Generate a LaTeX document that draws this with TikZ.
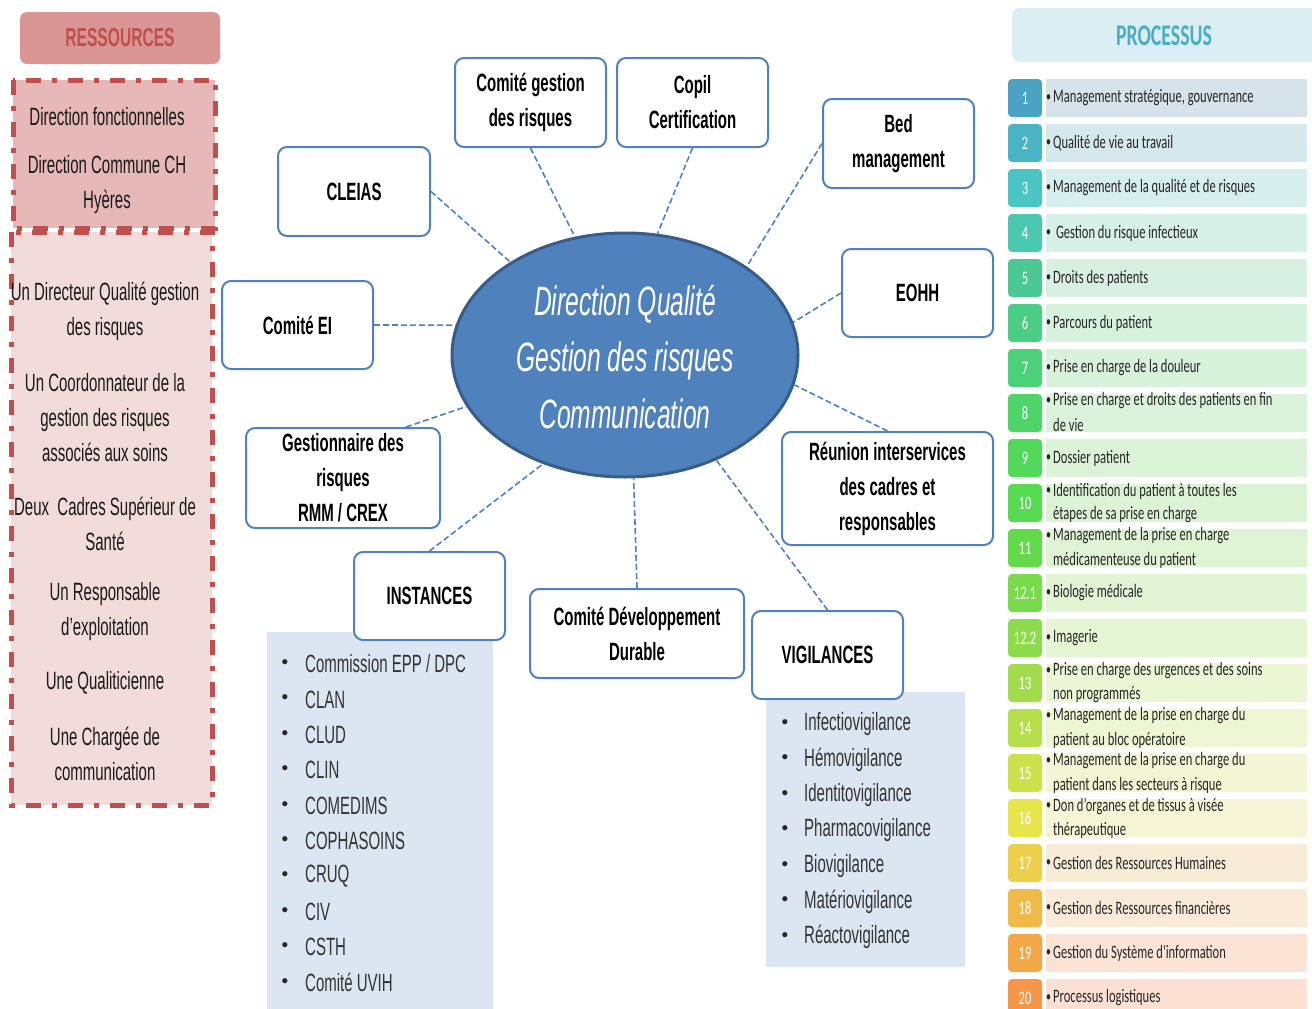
\documentclass[tikz,border=0pt]{standalone}
\usepackage{fontspec}
\setmainfont{Liberation Sans}[FakeStretch=0.6]
\newfontfamily\calib{Carlito}[FakeStretch=0.66]
\newfontfamily\plainsans{Liberation Sans}
\usetikzlibrary{shapes.geometric}
\definecolor{blu}{HTML}{4F81BD}
\definecolor{bluD}{HTML}{385D8A}
\definecolor{redD}{HTML}{C0504D}
\definecolor{redM}{HTML}{D99694}
\definecolor{redL}{HTML}{E6B9B8}
\definecolor{redLL}{HTML}{F2DCDB}
\definecolor{listbg}{HTML}{DCE6F2}
\definecolor{procbg}{HTML}{DBEEF4}
\definecolor{proct}{HTML}{4BACC6}
% process row colours
\definecolor{num1}{HTML}{4AA3C5}\definecolor{bar1}{HTML}{D6E3EA}
\definecolor{num2}{HTML}{4AB4C6}\definecolor{bar2}{HTML}{D5E8EC}
\definecolor{num3}{HTML}{4BC5C3}\definecolor{bar3}{HTML}{D6EEEC}
\definecolor{num4}{HTML}{4BC8B0}\definecolor{bar4}{HTML}{D7F0E8}
\definecolor{num5}{HTML}{4CC894}\definecolor{bar5}{HTML}{D7F0E2}
\definecolor{num6}{HTML}{4CCD85}\definecolor{bar6}{HTML}{D8F2E0}
\definecolor{num7}{HTML}{4DD07A}\definecolor{bar7}{HTML}{D8F2DC}
\definecolor{num8}{HTML}{4FD46A}\definecolor{bar8}{HTML}{DAF3DA}
\definecolor{num9}{HTML}{52D85A}\definecolor{bar9}{HTML}{DBF4D8}
\definecolor{num10}{HTML}{55DA50}\definecolor{bar10}{HTML}{DCF4D6}
\definecolor{num11}{HTML}{62DA4C}\definecolor{bar11}{HTML}{DEF4D4}
\definecolor{num12a}{HTML}{78DA4C}\definecolor{bar12a}{HTML}{E2F4D4}
\definecolor{num12b}{HTML}{8CDB4C}\definecolor{bar12b}{HTML}{E6F5D4}
\definecolor{num13}{HTML}{A0DC4C}\definecolor{bar13}{HTML}{EAF6D4}
\definecolor{num14}{HTML}{B4DE4C}\definecolor{bar14}{HTML}{EEF6D4}
\definecolor{num15}{HTML}{CCE24C}\definecolor{bar15}{HTML}{F2F6D4}
\definecolor{num16}{HTML}{E6E64C}\definecolor{bar16}{HTML}{F6F6D6}
\definecolor{num17}{HTML}{ECD04C}\definecolor{bar17}{HTML}{F8ECD6}
\definecolor{num18}{HTML}{EFBA48}\definecolor{bar18}{HTML}{FAEAD8}
\definecolor{num19}{HTML}{F2A846}\definecolor{bar19}{HTML}{FBE4D6}
\definecolor{num20}{HTML}{F79646}\definecolor{bar20}{HTML}{FDE0D4}

\tikzset{
 box/.style={draw=blu, line width=2pt, rounded corners=9pt, fill=white, inner sep=0pt,
   align=center, font=\fontsize{25}{35}\selectfont\bfseries},
 link/.style={draw=blu, line width=1.6pt, dash pattern=on 6pt off 3pt},
 ltxt/.style={align=center, inner sep=0pt, font=\fontsize{25}{35}\selectfont, text=black!90},
 litem/.style={anchor=west, inner sep=0pt, font=\fontsize{25}{30}\selectfont, text=black!80},
 lbul/.style={inner sep=0pt, font=\plainsans\fontsize{19}{20}\selectfont, text=black!85},
 rbord/.style={draw=redD, line width=5pt, dash pattern=on 15pt off 11pt on 5pt off 11pt},
 numbox/.style={rounded corners=4pt, minimum width=34pt, minimum height=38pt, inner sep=0pt,
   text=white, font=\calib\fontsize{19}{20}\selectfont},
 barbox/.style={minimum width=261pt, minimum height=38pt, inner sep=0pt},
 ptxt/.style={anchor=west, inner sep=0pt, font=\calib\fontsize{19}{22}\selectfont, text=black!85},
 pbul/.style={inner sep=0pt, font=\calib\fontsize{15}{16}\selectfont, text=black!85},
}
% one-line process row: #1 top, #2 number, #3 id, #4 text
\newcommand\prowA[4]{%
 \node[barbox, fill=bar#3] (bar#3) at (1176.5,#1+19) {};
 \node[numbox, fill=num#3] (num#3) at (1025,#1+19) {#2};
 \node[pbul] (bul#3) at (1048.5,#1+19) {\textbullet};
 \node[ptxt] (txt#3) at (1053,#1+19) {#4};
}
% two-line process row
\newcommand\prowB[5]{%
 \node[barbox, fill=bar#3] (bar#3) at (1176.5,#1+19) {};
 \node[numbox, fill=num#3] (num#3) at (1025,#1+19) {#2};
 \node[pbul] (bul#3) at (1048.5,#1+7) {\textbullet};
 \node[ptxt] (txt#3) at (1053,#1+7) {#4};
 \node[ptxt] (txtb#3) at (1053,#1+31) {#5};
}

\begin{document}
\begin{tikzpicture}[x=1pt,y=-1pt]
\useasboundingbox (0,0) rectangle (1312,1009);

% ---------- RESSOURCES ----------
\node[fill=redM, rounded corners=7pt, minimum width=200pt, minimum height=52pt, inner sep=0pt,
  text=redD, font=\fontsize{26}{28}\selectfont\bfseries] (res) at (120,38) {RESSOURCES};
\fill[redLL] (11,232) rectangle (212,805);
\fill[redL] (13,80) rectangle (215,228);
\draw[rbord] (13,80) rectangle (215,228);
\draw[rbord] (11,232) rectangle (212,805);
\node[ltxt] (r1) at (107,117) {Direction fonctionnelles};
\node[ltxt] (r2) at (107,185) {Direction Commune CH\\Hyères};
\node[ltxt] (r3) at (105,311) {Un Directeur Qualité gestion\\des risques};
\node[ltxt] (r4) at (105,418) {Un Coordonnateur de la\\gestion des risques\\associés aux soins};
\node[ltxt] (r5) at (105,524) {Deux\ \ Cadres Supérieur de\\Santé};
\node[ltxt] (r6) at (105,612) {Un Responsable\\d’exploitation};
\node[ltxt] (r7) at (105,683) {Une Qualiticienne};
\node[ltxt] (r8) at (105,754) {Une Chargée de\\communication};

% ---------- list backgrounds ----------
\fill[listbg] (267,632) rectangle (493,1009);
\fill[listbg] (766,692) rectangle (965,967);

% ---------- central ellipse ----------
\node[ellipse, draw=bluD, line width=3pt, fill=blu, minimum width=346pt, minimum height=244pt,
  inner sep=0pt] (ell) at (625,355) {};
\node[align=center, inner sep=0pt, text=white, font=\fontsize{41}{56.5}\selectfont\itshape]
  (elltxt) at (625,357) {Direction Qualité\\Gestion des risques\\Communication};

% ---------- satellite boxes ----------
\node[box, minimum width=151pt, minimum height=89pt] (cg) at (530.5,102.5) {Comité gestion\\des risques};
\node[box, minimum width=151pt, minimum height=89pt] (copil) at (692.5,102.5) {Copil\\Certification};
\node[box, minimum width=152pt, minimum height=89pt] (cleias) at (354,191.5) {CLEIAS};
\node[box, minimum width=151pt, minimum height=89pt] (bed) at (898.5,143.5) {Bed\\management};
\node[box, minimum width=151pt, minimum height=88pt] (ei) at (297.5,325) {Comité EI};
\node[box, minimum width=151pt, minimum height=88pt] (eohh) at (917.5,293) {EOHH};
\node[box, minimum width=194pt, minimum height=100pt] (gest) at (343,478) {Gestionnaire des\\risques\\RMM / CREX};
\node[box, minimum width=211pt, minimum height=113pt] (reun) at (887.5,488.5) {Réunion interservices\\des cadres et\\responsables};
\node[box, minimum width=151pt, minimum height=88pt] (inst) at (429.5,596) {INSTANCES};
\node[box, minimum width=214pt, minimum height=89pt] (cdd) at (637,633.5) {Comité Développement\\Durable};
\node[box, minimum width=151pt, minimum height=88pt] (vig) at (827.5,655) {VIGILANCES};

% ---------- connectors ----------
\draw[link] (cg.south) -- (ell.113);
\draw[link] (copil.south) -- (ell.75);
\draw[link] (cleias.east) -- (ell.141.5);
\draw[link] (bed.west) -- (ell.36);
\draw[link] (ei.east) -- (ell.170);
\draw[link] (eohh.west) -- (ell.11);
\draw[link] (reun.north) -- (ell.-10);
\draw[link] (gest.39) -- (ell.198);
\draw[link] (inst.north) -- (ell.233);
\draw[link] (cdd.north) -- (ell.-86);
\draw[link] (vig.north) -- (ell.-49.5);

% ---------- lists ----------
\foreach \t [count=\i from 0] in {Commission EPP / DPC, CLAN, CLUD, CLIN, COMEDIMS, COPHASOINS, CRUQ, CIV, CSTH, Comité UVIH}{
  \node[lbul] (ib\i) at (285,664+35.4*\i) {\textbullet};
  \node[litem] (it\i) at (305,664+35.4*\i) {\t};
}
\foreach \t [count=\i from 0] in {Infectiovigilance, Hémovigilance, Identitovigilance, Pharmacovigilance, Biovigilance, Matériovigilance, Réactovigilance}{
  \node[lbul] (vb\i) at (785,724+35.5*\i) {\textbullet};
  \node[litem] (vt\i) at (804,724+35.5*\i) {\t};
}

% ---------- PROCESSUS ----------
\node[fill=procbg, rounded corners=8pt, minimum width=310pt, minimum height=54pt, inner sep=0pt] (prochead) at (1167,35) {};
\node[text=proct, inner sep=0pt, font=\calib\fontsize{30}{32}\selectfont\bfseries] (proc) at (1164,36) {PROCESSUS};

\prowA{79}{1}{1}{Management stratégique, gouvernance}
\prowA{124}{2}{2}{Qualité de vie au travail}
\prowA{169}{3}{3}{Management de la qualité et de risques}
\prowA{214}{4}{4}{\ Gestion du risque infectieux}
\prowA{259}{5}{5}{Droits des patients}
\prowA{304}{6}{6}{Parcours du patient}
\prowA{349}{7}{7}{Prise en charge de la douleur}
\prowB{394}{8}{8}{Prise en charge et droits des patients en fin}{de vie}
\prowA{439}{9}{9}{Dossier patient}
\prowB{484}{10}{10}{Identification du patient à toutes les}{étapes de sa prise en charge}
\prowB{529}{11}{11}{Management de la prise en charge}{médicamenteuse du patient}
\prowA{574}{12.1}{12a}{Biologie médicale}
\prowA{619}{12.2}{12b}{Imagerie}
\prowB{664}{13}{13}{Prise en charge des urgences et des soins}{non programmés}
\prowB{709}{14}{14}{Management de la prise en charge du}{patient au bloc opératoire}
\prowB{754}{15}{15}{Management de la prise en charge du}{patient dans les secteurs à risque}
\prowB{799}{16}{16}{Don d’organes et de tissus à visée}{thérapeutique}
\prowA{844}{17}{17}{Gestion des Ressources Humaines}
\prowA{889}{18}{18}{Gestion des Ressources financières}
\prowA{934}{19}{19}{Gestion du Système d'information}
\prowA{979}{20}{20}{Processus logistiques}
\end{tikzpicture}
\end{document}
